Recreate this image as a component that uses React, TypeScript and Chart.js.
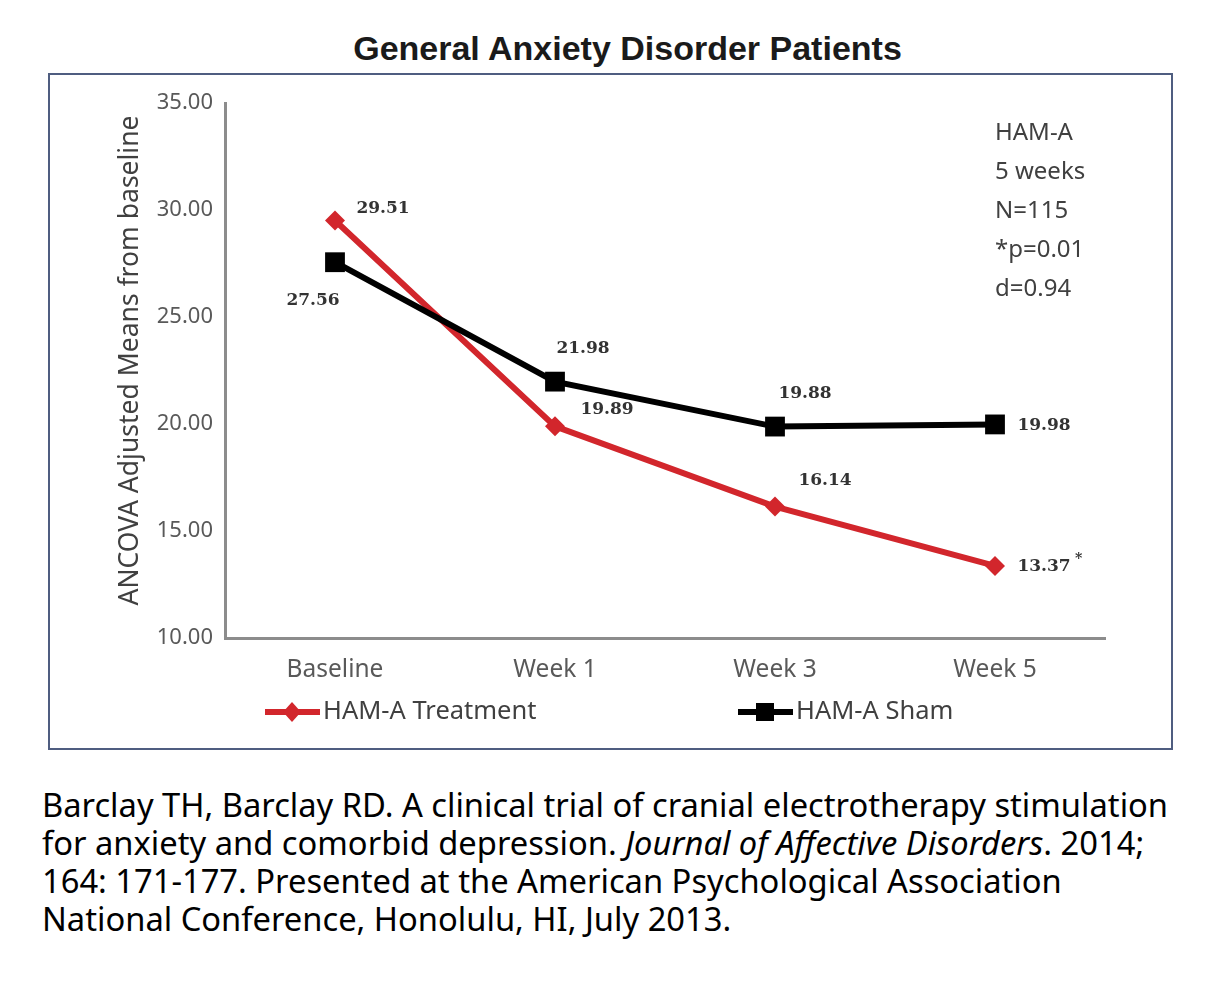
import React, { useEffect, useRef } from 'react';
import { Chart, registerables } from 'chart.js';

Chart.register(...registerables);

// ---- data ----
const categories = ['Baseline', 'Week 1', 'Week 3', 'Week 5'];
const treatmentValues = [29.51, 19.89, 16.14, 13.37];
const shamValues = [27.56, 21.98, 19.88, 19.98];
const treatmentMarks = ['', '', '', '*'];
const shamMarks = ['', '', '', ''];
const yMin = 10;
const yMax = 35;
const yStep = 5;
const yTitle = 'ANCOVA Adjusted Means from baseline';
const statsLines = ['HAM-A', '5 weeks', 'N=115', '*p=0.01', 'd=0.94'];
const seriesNames = ['HAM-A Treatment', 'HAM-A Sham'];

// ---- label placement (style) ----
const treatmentLabelOffsets = [[48, -12], [52, -17], [50, -26], [49, 1]];
const shamLabelOffsets = [[-22, 38], [28, -33], [30, -33], [49, 1]];

const RED = '#d2262c';
const BLACK = '#000000';
const SANS = '"Noto Sans", "DejaVu Sans", sans-serif';
const LABEL_FONT = 'bold 17px "DejaVu Serif", serif';

export default function App() {
  const canvasRef = useRef<HTMLCanvasElement | null>(null);

  useEffect(() => {
    const canvas = canvasRef.current;
    if (!canvas) return;

    const overlayPlugin = {
      id: 'overlay',
      afterDatasetsDraw(chart: any) {
        const ctx = chart.ctx as CanvasRenderingContext2D;
        const area = chart.chartArea;
        ctx.save();

        // y axis title
        ctx.save();
        ctx.translate(80, (area.top + area.bottom) / 2 - 10);
        ctx.rotate(-Math.PI / 2);
        ctx.font = `26.5px ${SANS}`;
        ctx.fillStyle = '#404040';
        ctx.textAlign = 'center';
        ctx.textBaseline = 'middle';
        ctx.fillText(yTitle, 0, 0);
        ctx.restore();

        // value labels
        ctx.fillStyle = '#333333';
        ctx.textAlign = 'center';
        ctx.textBaseline = 'middle';
        const groups = [
          { di: 0, values: treatmentValues, offs: treatmentLabelOffsets, marks: treatmentMarks },
          { di: 1, values: shamValues, offs: shamLabelOffsets, marks: shamMarks },
        ];
        groups.forEach((g) => {
          const meta = chart.getDatasetMeta(g.di);
          meta.data.forEach((pt: any, i: number) => {
            const [dx, dy] = g.offs[i];
            const txt = g.values[i].toFixed(2);
            const x = pt.x + dx;
            const y = pt.y + dy;
            ctx.font = LABEL_FONT;
            ctx.fillText(txt, x, y);
            if (g.marks[i]) {
              const w = ctx.measureText(txt).width;
              ctx.font = 'bold 14px "DejaVu Serif", serif';
              ctx.fillText(g.marks[i], x + w / 2 + 8, y - 8);
            }
          });
        });

        // stats text
        ctx.font = `24px ${SANS}`;
        ctx.fillStyle = '#404040';
        ctx.textAlign = 'left';
        statsLines.forEach((line, i) => {
          ctx.fillText(line, area.right - 110, 58 + i * 39);
        });

        // legend
        const ly = 637;
        const items = [
          { x: 215, color: RED, style: 'diamond', name: seriesNames[0] },
          { x: 688, color: BLACK, style: 'square', name: seriesNames[1] },
        ];
        items.forEach((it) => {
          ctx.strokeStyle = it.color;
          ctx.lineWidth = 6;
          ctx.beginPath();
          ctx.moveTo(it.x, ly);
          ctx.lineTo(it.x + 55, ly);
          ctx.stroke();
          ctx.fillStyle = it.color;
          const cx = it.x + 27;
          if (it.style === 'diamond') {
            ctx.beginPath();
            ctx.moveTo(cx, ly - 10);
            ctx.lineTo(cx + 9, ly);
            ctx.lineTo(cx, ly + 10);
            ctx.lineTo(cx - 9, ly);
            ctx.closePath();
            ctx.fill();
          } else {
            ctx.fillRect(cx - 9, ly - 9, 18, 18);
          }
          ctx.fillStyle = '#404040';
          ctx.font = `25.5px ${SANS}`;
          ctx.textAlign = 'left';
          ctx.textBaseline = 'middle';
          ctx.fillText(it.name, it.x + 58, ly);
        });
        ctx.restore();
      },
    };

    const chart = new Chart(canvas, {
      type: 'line',
      data: {
        labels: categories,
        datasets: [
          {
            label: seriesNames[0],
            data: treatmentValues,
            borderColor: RED,
            backgroundColor: RED,
            borderWidth: 6,
            pointStyle: 'rectRot',
            pointRadius: 10,
            pointBorderWidth: 0,
            tension: 0,
            order: 1,
          },
          {
            label: seriesNames[1],
            data: shamValues,
            borderColor: BLACK,
            backgroundColor: BLACK,
            borderWidth: 6,
            pointStyle: 'rect',
            pointRadius: 14,
            pointBorderWidth: 0,
            tension: 0,
            order: 0,
          },
        ],
      },
      options: {
        responsive: false,
        animation: false,
        devicePixelRatio: 1,
        layout: { padding: { left: 0, top: 28, right: 66, bottom: 0 } },
        plugins: {
          legend: { display: false },
          tooltip: { enabled: false },
          title: { display: false },
        },
        scales: {
          x: {
            type: 'category',
            offset: true,
            grid: { display: false, drawTicks: false },
            border: { display: true, color: '#8c8c8c', width: 3 },
            ticks: { color: '#595959', font: { family: SANS, size: 24.5 }, padding: 17 },
            afterFit: (scale: any) => {
              scale.height = 110;
            },
          },
          y: {
            min: yMin,
            max: yMax,
            grid: { display: false, drawTicks: false },
            border: { display: true, color: '#8c8c8c', width: 3 },
            ticks: {
              stepSize: yStep,
              color: '#595959',
              font: { family: SANS, size: 22 },
              padding: 12,
              callback: (v: any) => Number(v).toFixed(2),
            },
            title: { display: false },
            afterFit: (scale: any) => {
              scale.width = 175;
            },
          },
        },
      },
      plugins: [overlayPlugin],
    });

    return () => chart.destroy();
  }, []);

  return (
    <div
      style={{
        position: 'absolute',
        left: 0,
        top: 0,
        width: 1215,
        height: 986,
        background: '#ffffff',
        overflow: 'hidden',
      }}
    >
      <div
        style={{
          position: 'absolute',
          left: 0,
          width: 1255,
          top: 26,
          textAlign: 'center',
          fontFamily: '"Liberation Sans", Arial, sans-serif',
          fontWeight: 'bold',
          fontSize: 34,
          lineHeight: '44px',
          color: '#1a1a1a',
          whiteSpace: 'nowrap',
        }}
      >
        General Anxiety Disorder Patients
      </div>
      <div
        style={{
          position: 'absolute',
          left: 48,
          top: 73,
          width: 1125,
          height: 677,
          border: '2px solid #4f5d80',
          boxSizing: 'border-box',
        }}
      >
        <canvas ref={canvasRef} width={1121} height={673} style={{ display: 'block', width: 1121, height: 673 }} />
      </div>
      <div
        style={{
          position: 'absolute',
          left: 42,
          top: 786,
          fontFamily: SANS,
          fontSize: 32.7,
          lineHeight: '38px',
          color: '#000000',
          whiteSpace: 'nowrap',
        }}
      >
        Barclay TH, Barclay RD. A clinical trial of cranial electrotherapy stimulation
        <br />
        for anxiety and comorbid depression. <i>Journal of Affective Disorders</i>. 2014;
        <br />
        164: 171-177. Presented at the American Psychological Association
        <br />
        National Conference, Honolulu, HI, July 2013.
      </div>
    </div>
  );
}
